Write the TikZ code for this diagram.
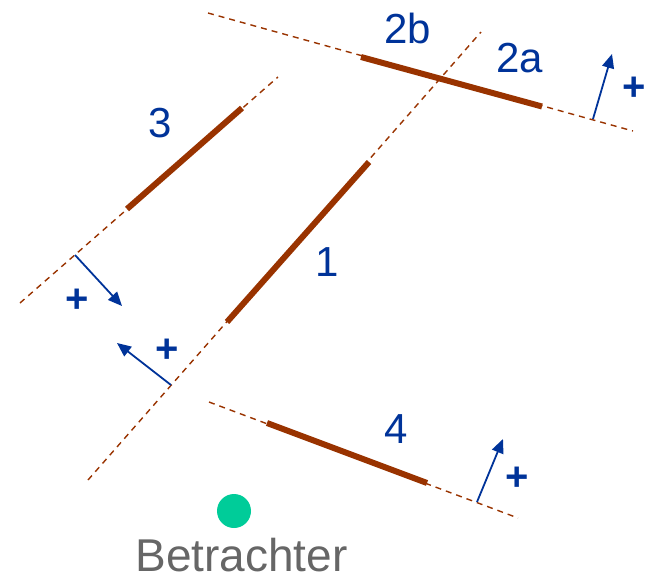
\documentclass[tikz,border=0pt]{standalone}
\usepackage{fontspec}
\setmainfont{Liberation Sans}
\usetikzlibrary{arrows.meta}
\definecolor{wallbrown}{RGB}{153,51,0}
\definecolor{normalblue}{RGB}{0,51,153}
\definecolor{viewgreen}{RGB}{0,204,153}
\definecolor{viewgray}{RGB}{102,102,102}
\tikzset{
  guide/.style={wallbrown,line width=1.4pt,dash pattern=on 6pt off 5pt},
  wall/.style={wallbrown,line width=6pt},
  normal/.style={normalblue,line width=1.8pt,-{Triangle[length=14pt,width=12pt]}},
  num/.style={normalblue,font=\fontsize{42}{48}\selectfont,inner sep=0pt},
  sign/.style={normalblue,font=\fontsize{40}{48}\selectfont\bfseries,inner sep=0pt},
}

\begin{document}
\begin{tikzpicture}[x=1pt,y=-1pt]
\useasboundingbox (0,0) rectangle (646,579);
% guide lines through the faces
\coordinate (g1a) at (88,480);  \coordinate (g1b) at (481,32);
\coordinate (g2a) at (208,13);  \coordinate (g2b) at (633,131);
\coordinate (g3a) at (20,303);  \coordinate (g3b) at (278,77);
\coordinate (g4a) at (209,402); \coordinate (g4b) at (518,518);
\draw[guide] (g1a) -- (g1b);
\draw[guide] (g2a) -- (g2b);
\draw[guide] (g3a) -- (g3b);
\draw[guide] (g4a) -- (g4b);
% faces
\coordinate (w1a) at (227,322); \coordinate (w1b) at (369,162);
\coordinate (w2a) at (361,57);  \coordinate (w2b) at (542,106.5);
\coordinate (w3a) at (127,209); \coordinate (w3b) at (242,108);
\coordinate (w4a) at (267,423); \coordinate (w4b) at (427,483);
\draw[wall] (w1a) -- (w1b);
\draw[wall] (w2a) -- (w2b);
\draw[wall] (w3a) -- (w3b);
\draw[wall] (w4a) -- (w4b);
% normals
\coordinate (n1a) at (171,385); \coordinate (n1b) at (117,343);
\coordinate (n2a) at (593,119); \coordinate (n2b) at (612,54);
\coordinate (n3a) at (75,255);  \coordinate (n3b) at (122,306);
\coordinate (n4a) at (477,502); \coordinate (n4b) at (503,439);
\draw[normal] (n1a) -- (n1b);
\draw[normal] (n2a) -- (n2b);
\draw[normal] (n3a) -- (n3b);
\draw[normal] (n4a) -- (n4b);
% labels
\node[num] (l1) at (327,262) {1};
\node[num] (l2b) at (408,28) {2b};
\node[num] (l2a) at (520,58) {2a};
\node[num] (l3) at (160,123) {3};
\node[num] (l4) at (396,429) {4};
\node[sign] (p1) at (167,351) {+};
\node[sign] (p2) at (634,89) {+};
\node[sign] (p3) at (77,301) {+};
\node[sign] (p4) at (517,479) {+};
% viewer
\fill[viewgreen] (234,511) circle (17pt);
\node[viewgray,font=\fontsize{46}{52}\selectfont,inner sep=0pt] (viewer) at (241.5,555) {Betrachter};
\end{tikzpicture}
\end{document}
